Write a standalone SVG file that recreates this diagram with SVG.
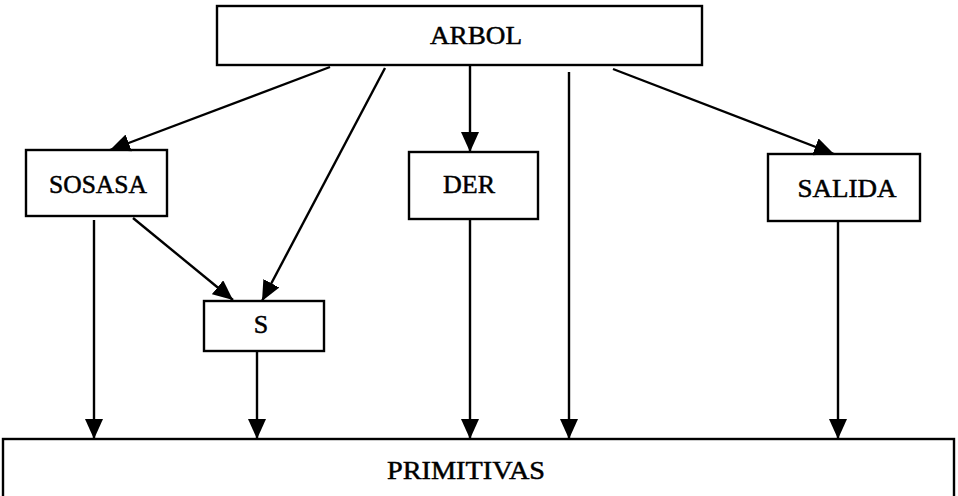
<svg xmlns="http://www.w3.org/2000/svg" width="958" height="496" viewBox="0 0 958 496">
<defs>
<style>
.box{fill:#fff;stroke:#000;stroke-width:2.4}
.lbl{font-family:"Liberation Serif","DejaVu Serif",serif;font-size:26px;fill:#000;stroke:#000;stroke-width:0.5;text-anchor:middle}
.conn line{stroke:#000;stroke-width:2.4;fill:none}
</style>
<marker id="ah" viewBox="0 0 20 18" refX="20" refY="9" markerWidth="20" markerHeight="18" markerUnits="userSpaceOnUse" orient="auto">
<path d="M0,0 L20,9 L0,18 Z" fill="#000"/>
</marker>
</defs>
<rect width="958" height="496" fill="#fff"/>
<g id="arbol"><rect class="box" x="217" y="6" width="485" height="59"/><text class="lbl" x="476" y="44" textLength="92" lengthAdjust="spacingAndGlyphs">ARBOL</text></g>
<g id="sosasa"><rect class="box" x="26" y="150" width="141" height="66"/><text class="lbl" x="98" y="193" textLength="98" lengthAdjust="spacingAndGlyphs">SOSASA</text></g>
<g id="der"><rect class="box" x="409" y="152" width="129" height="67"/><text class="lbl" x="469" y="193" textLength="52" lengthAdjust="spacingAndGlyphs">DER</text></g>
<g id="salida"><rect class="box" x="768" y="154" width="152" height="67"/><text class="lbl" x="847" y="197" textLength="99" lengthAdjust="spacingAndGlyphs">SALIDA</text></g>
<g id="s"><rect class="box" x="204" y="301" width="120" height="50"/><text class="lbl" x="261" y="333">S</text></g>
<g id="primitivas"><rect class="box" x="3" y="439" width="951" height="70"/><text class="lbl" x="466" y="479" textLength="158" lengthAdjust="spacingAndGlyphs">PRIMITIVAS</text></g>
<g id="connectors" class="conn">
<line x1="330" y1="67" x2="110" y2="150" marker-end="url(#ah)"/>
<line x1="385" y1="68" x2="262" y2="301" marker-end="url(#ah)"/>
<line x1="470" y1="65" x2="470" y2="152" marker-end="url(#ah)"/>
<line x1="569" y1="72" x2="569" y2="439" marker-end="url(#ah)"/>
<line x1="613" y1="69" x2="834" y2="154" marker-end="url(#ah)"/>
<line x1="133" y1="218" x2="233" y2="300" marker-end="url(#ah)"/>
<line x1="94" y1="220" x2="94" y2="439" marker-end="url(#ah)"/>
<line x1="257" y1="351" x2="257" y2="439" marker-end="url(#ah)"/>
<line x1="470" y1="219" x2="470" y2="439" marker-end="url(#ah)"/>
<line x1="838" y1="221" x2="838" y2="439" marker-end="url(#ah)"/>
</g>
</svg>
